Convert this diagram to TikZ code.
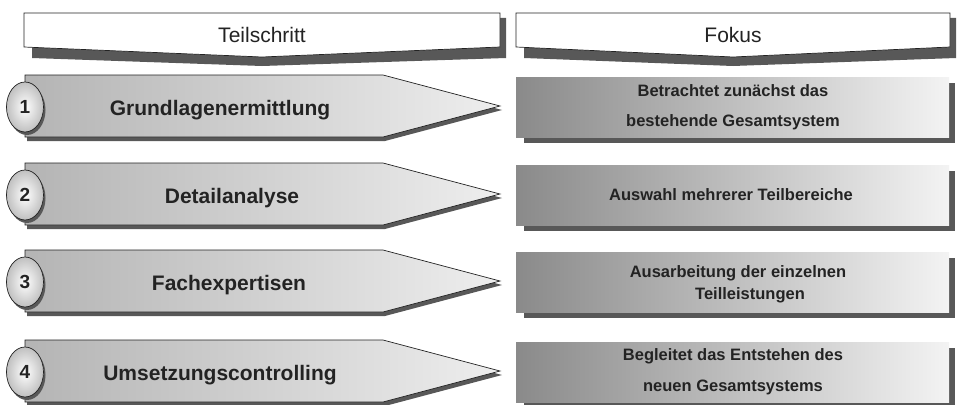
\documentclass[tikz,border=0pt]{standalone}
\usepackage{fontspec}
\setmainfont{Liberation Sans}
\usepackage{xcolor}
\usepackage{tikz}
\usetikzlibrary{shapes.geometric}
\definecolor{ink}{RGB}{35,35,35}
\definecolor{shadowc}{RGB}{88,88,88}
\definecolor{arrowl}{RGB}{180,180,180}
\definecolor{arrowr}{RGB}{238,238,238}
\definecolor{boxl}{RGB}{138,138,138}
\definecolor{boxr}{RGB}{243,243,243}
\definecolor{numc}{RGB}{192,192,192}

\begin{document}
\begin{tikzpicture}[x=1pt, y=-1pt,
                    hd/.style={draw=ink, fill=white, line width=0.7pt},
                    sh/.style={fill=shadowc},
                    ar/.style={draw=ink, line width=0.7pt, left color=arrowl, right color=arrowr},
                    bx/.style={left color=boxl, right color=boxr},
                    num/.style={ellipse, draw=ink, line width=0.7pt, inner color=white, outer color=numc,
                                minimum width=37pt, minimum height=50pt, inner sep=0pt,
                                font=\bfseries\fontsize{19}{19}\selectfont, text=ink},
                    lab/.style={anchor=base, font=\bfseries\fontsize{21}{21}\selectfont, text=ink},
                    fok/.style={align=center, font=\bfseries\fontsize{16.5}{30}\selectfont, text=ink},
                    ttl/.style={font=\fontsize{21}{21}\selectfont, text=ink}]
  \useasboundingbox (0,0) rectangle (957,404);
  % column heads
  \fill[sh] (32,18) -- (506,18) -- (506,58) -- (262,66) -- (32,58) -- cycle;
  \draw[hd] (24,13) -- (500,13) -- (500,47) -- (262,57) -- (24,47) -- cycle;
  \node[ttl] (schritt) at (262,35) {Teilschritt};
  \fill[sh] (524,18) -- (956,18) -- (956,58) -- (733,66) -- (524,58) -- cycle;
  \draw[hd] (516,13) -- (950,13) -- (950,47) -- (733,57) -- (516,47) -- cycle;
  \node[ttl] (fokus) at (733,35) {Fokus};
  % steps
  \foreach \n/\c/\lx/\lab in {1/106/220/Grundlagenermittlung, 2/194/232/Detailanalyse,
                              3/281/229/Fachexpertisen, 4/371/220/Umsetzungscontrolling}{
    \fill[sh] (27,\c-27) -- (385,\c-27) -- (502,\c+4) -- (385,\c+35) -- (27,\c+35) -- cycle;
    \draw[ar] (25,\c-31) -- (383,\c-31) -- (500,\c) -- (383,\c+31) -- (25,\c+31) -- cycle;
    \fill[sh] (524,\c-23) rectangle (955,\c+37);
    \fill[bx] (516,\c-29) rectangle (949,\c+31);
    \fill[sh] (27,\c+4) ellipse [x radius=18.5pt, y radius=25pt];
    \node[num] (n\n) at (25,\c+1) {\n};
    \node[lab] (s\n) at (\lx,\c+9) {\lab};
  }
  \node[fok] (f1) at (733,107) {Betrachtet zunächst das\\bestehende Gesamtsystem};
  \node[fok] (f2) at (731,195) {Auswahl mehrerer Teilbereiche};
  \node[fok, font=\bfseries\fontsize{16.5}{22}\selectfont] (f3) at (738,284)
    {Ausarbeitung der einzelnen\\\hspace*{24pt}Teilleistungen};
  \node[fok, font=\bfseries\fontsize{16.5}{31}\selectfont] (f4) at (733,372)
    {Begleitet das Entstehen des\\neuen Gesamtsystems};
\end{tikzpicture}
\end{document}
